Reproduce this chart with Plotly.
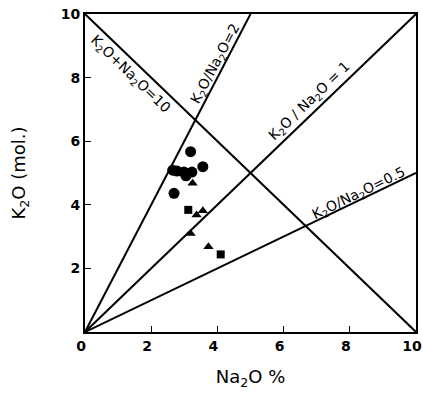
import plotly.graph_objects as go

# ---- data ----
circle_x = [3.19, 2.65, 2.78, 2.99, 3.05, 3.23, 3.56, 2.69]
circle_y = [5.67, 5.09, 5.06, 5.03, 4.91, 5.03, 5.20, 4.36]
tri_x = [3.25, 3.37, 3.56, 3.19, 3.73]
tri_y = [4.68, 3.68, 3.81, 3.10, 2.68]
sq_x = [3.12, 4.10]
sq_y = [3.84, 2.44]

ratios = [2, 1, 0.5]
total = 10
xticks = [0, 2, 4, 6, 8, 10]
yticks = [2, 4, 6, 8, 10]

FONT = "DejaVu Sans"
fig = go.Figure()

# reference lines K2O/Na2O = r
for r in ratios:
    xe = min(10, 10 / r)
    fig.add_trace(go.Scatter(x=[0, xe], y=[0, r * xe], mode="lines",
                             line=dict(color="black", width=2), showlegend=False,
                             hoverinfo="skip"))
# K2O + Na2O = 10
fig.add_trace(go.Scatter(x=[0, total], y=[total, 0], mode="lines",
                         line=dict(color="black", width=2), showlegend=False,
                         hoverinfo="skip"))

fig.add_trace(go.Scatter(x=circle_x, y=circle_y, mode="markers",
                         marker=dict(symbol="circle", size=11, color="black"),
                         showlegend=False))
fig.add_trace(go.Scatter(x=tri_x, y=tri_y, mode="markers",
                         marker=dict(symbol="triangle-up", size=9, color="black"),
                         showlegend=False))
fig.add_trace(go.Scatter(x=sq_x, y=sq_y, mode="markers",
                         marker=dict(symbol="square", size=8, color="black"),
                         showlegend=False))

tfont = dict(family=FONT, size=14, color="black")
annots = [
    ("K<sub>2</sub>O+Na<sub>2</sub>O=10", 1.35, 8.1, 44),
    ("K<sub>2</sub>O/Na<sub>2</sub>O=2", 3.95, 8.42, -62),
    ("K<sub>2</sub>O / Na<sub>2</sub>O = 1", 6.8, 7.25, -44),
    ("K<sub>2</sub>O/Na<sub>2</sub>O=0.5", 8.25, 4.35, -26),
]
for t, x, y, a in annots:
    fig.add_annotation(x=x, y=y, text=t, showarrow=False, textangle=a,
                       font=tfont, xanchor="center", yanchor="middle")

axis_common = dict(showline=True, linecolor="black", linewidth=2, mirror=True,
                   showgrid=False, zeroline=False, ticks="inside", ticklen=6,
                   tickcolor="black", tickwidth=1, ticklabeloverflow="allow",
                   automargin=False,
                   tickfont=dict(family=FONT, size=14, color="black", weight="bold"))
fig.update_xaxes(range=[0, 10], tickvals=xticks, ticktext=[str(v) for v in xticks],
                 ticklabelshift=-4,
                 title=dict(text="Na<sub>2</sub>O %", font=dict(family=FONT, size=18, color="black"),
                            standoff=18),
                 **axis_common)
fig.update_yaxes(range=[0, 10], tickvals=yticks, ticktext=[str(v) for v in yticks],
                 title=dict(text="K<sub>2</sub>O (mol.)", font=dict(family=FONT, size=18, color="black"),
                            standoff=30),
                 **axis_common)

fig.update_layout(width=423, height=394, margin=dict(l=85, r=7, t=14, b=62),
                  plot_bgcolor="white", paper_bgcolor="white")
fig.write_html("out.html")
